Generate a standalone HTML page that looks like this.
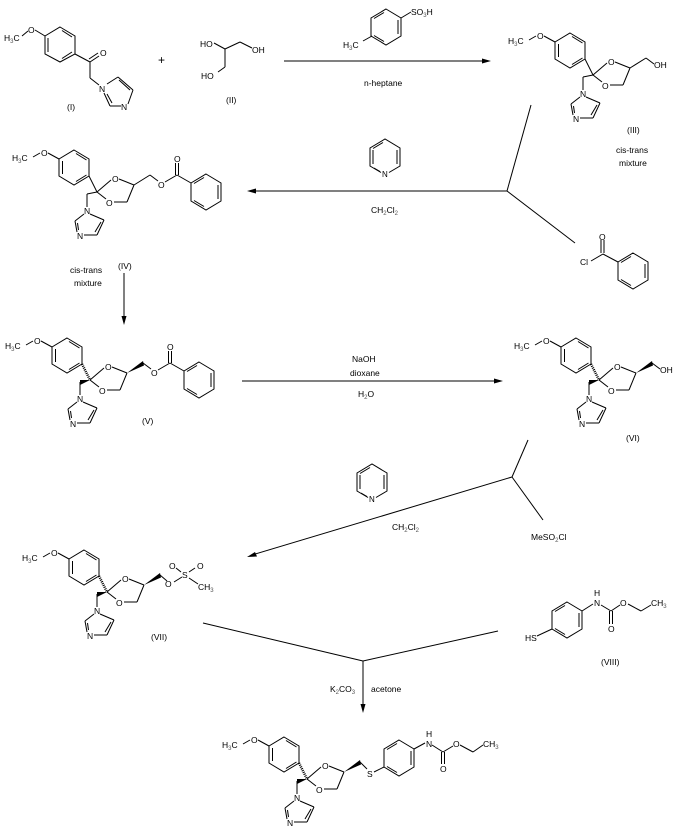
<!DOCTYPE html>
<html><head><meta charset="utf-8"><style>
html,body{margin:0;padding:0;background:#fff;}
svg{display:block}
text{font-family:"Liberation Sans",sans-serif;font-size:8.5px;fill:#000}
.s{font-size:6px;fill:#555}
</style></head><body>
<svg width="679" height="836" viewBox="0 0 679 836" xmlns="http://www.w3.org/2000/svg">
<defs>
<g id="core" stroke="#000" stroke-width="1" fill="none">
<line x1="26" y1="345" x2="33" y2="341"/>
<line x1="41" y1="341" x2="52" y2="347"/>
<polygon points="67,338 82,347 82,364 67,373 52,364 52,347"/>
<line x1="55.5" y1="349" x2="55.5" y2="362"/>
<line x1="69" y1="369.5" x2="79.5" y2="363"/>
<line x1="69" y1="341.5" x2="79.5" y2="348"/>
<line x1="90" y1="380" x2="104" y2="368"/>
<line x1="112" y1="367" x2="127" y2="373"/>
<line x1="127" y1="373" x2="120" y2="390"/>
<line x1="120" y1="390" x2="107" y2="390"/>
<line x1="99" y1="387" x2="90" y2="380"/>
<line x1="80" y1="382" x2="80" y2="395"/>
<line x1="83" y1="402" x2="97" y2="408"/>
<line x1="97" y1="408" x2="90" y2="423"/>
<line x1="90" y1="423" x2="77" y2="423"/>
<line x1="70" y1="420" x2="68" y2="409"/>
<line x1="68" y1="409" x2="77" y2="402"/>
<line x1="94" y1="410" x2="88" y2="420"/>
<line x1="71.5" y1="418" x2="70.5" y2="411"/>
</g>
<g id="plain" stroke="#000" stroke-width="1" fill="none">
<line x1="82" y1="364" x2="90" y2="380"/>
<line x1="90" y1="380" x2="80" y2="382"/>
<line x1="127" y1="373" x2="143" y2="363"/>
</g>
<g id="stereo" stroke="#000" fill="#000">
<line x1="82" y1="364" x2="90" y2="380" stroke-width="2.5" stroke-dasharray="1,1"/>
<polygon points="90,380 80,380 80,385" stroke="none"/>
<polygon points="127,373 143,361 144,365.5" stroke="none"/>
</g>
<g id="benz" stroke="#000" stroke-width="1" fill="none">
<polygon points="0,-18 15,-9 15,9 0,18 -15,9 -15,-9"/>
<line x1="12" y1="-7" x2="12" y2="7"/>
<line x1="-2" y1="-14.5" x2="-12" y2="-8.5"/>
<line x1="-2" y1="14.5" x2="-12" y2="8.5"/>
</g>
<g id="pyr" stroke="#000" stroke-width="1" fill="none">
<polyline points="4,15.5 15,9 15,-9 0,-18 -15,-9 -15,9 -4,15.5"/>
<line x1="12" y1="-7" x2="12" y2="7"/>
<line x1="-12" y1="-7" x2="-12" y2="7"/>
<line x1="-2" y1="-14.5" x2="-12" y2="-8.5"/>
<line x1="-11" y1="11" x2="-5" y2="14.5"/>
</g>
</defs>

<!-- (I) -->
<g stroke="#000" stroke-width="1" fill="none">
<line x1="22" y1="36" x2="28" y2="31"/>
<line x1="35" y1="30" x2="45" y2="36"/>
<polygon points="60,27 75,36 75,54 60,62 45,54 45,36"/>
<line x1="48" y1="38" x2="48" y2="52"/>
<line x1="62" y1="30.5" x2="72" y2="37"/>
<line x1="62" y1="58.5" x2="72" y2="52"/>
<line x1="75" y1="54" x2="90" y2="62"/>
<line x1="90" y1="62" x2="99" y2="56"/>
<line x1="89" y1="59" x2="98" y2="53"/>
<line x1="90" y1="62" x2="90" y2="78"/>
<line x1="90" y1="78" x2="99" y2="85"/>
<line x1="107" y1="84" x2="118" y2="77"/>
<line x1="118" y1="77" x2="133" y2="90"/>
<line x1="133" y1="90" x2="128" y2="104"/>
<line x1="121" y1="106" x2="110" y2="106"/>
<line x1="110" y1="106" x2="104" y2="93"/>
<line x1="119" y1="80" x2="130" y2="90"/>
<line x1="112" y1="103" x2="107" y2="94"/>
</g>
<text x="4" y="41">H<tspan class="s" dy="2">3</tspan><tspan dy="-2">C</tspan></text>
<text x="28" y="33">O</text>
<text x="100" y="56">O</text>
<text x="99" y="92">N</text>
<text x="121" y="110">N</text>
<text x="67" y="110">(I)</text>
<text x="158" y="64" style="font-size:12px">+</text>
<!-- (II) -->
<g stroke="#000" stroke-width="1" fill="none">
<line x1="214" y1="43" x2="225" y2="49"/>
<line x1="225" y1="49" x2="240" y2="42"/>
<line x1="240" y1="42" x2="252" y2="48"/>
<line x1="225" y1="49" x2="225" y2="67"/>
<line x1="225" y1="67" x2="218" y2="72"/>
</g>
<text x="200" y="47">HO</text>
<text x="252" y="53">OH</text>
<text x="201" y="79">HO</text>
<text x="226" y="103">(II)</text>

<!-- arrow 1 -->
<line x1="284" y1="61" x2="486" y2="61" stroke="#000"/>
<polygon points="491,61 482,58.5 482,63.5" fill="#000"/>
<use href="#benz" x="386" y="27"/>
<line x1="372" y1="36" x2="363" y2="41" stroke="#000"/>
<line x1="401" y1="18" x2="411" y2="12" stroke="#000"/>
<text x="343" y="48">H<tspan class="s" dy="2">3</tspan><tspan dy="-2">C</tspan></text>
<text x="411" y="15">SO<tspan class="s" dy="2">3</tspan><tspan dy="-2">H</tspan></text>
<text x="364" y="86">n-heptane</text>

<!-- (III) -->
<g transform="translate(503,-305)">
<use href="#core"/><use href="#plain"/>
<line x1="143" y1="363" x2="151" y2="369" stroke="#000"/>
<text x="5" y="349">H<tspan class="s" dy="2">3</tspan><tspan dy="-2">C</tspan></text>
<text x="34" y="344">O</text><text x="105" y="370">O</text><text x="99" y="394">O</text>
<text x="77" y="402">N</text><text x="70" y="427">N</text>
<text x="151" y="373">OH</text>
</g>
<text x="627" y="133">(III)</text>
<text x="616" y="153">cis-trans</text>
<text x="619" y="166">mixture</text>

<!-- branch 1 -->
<g stroke="#000" stroke-width="1" fill="none">
<line x1="531" y1="105" x2="507" y2="191"/>
<line x1="507" y1="191" x2="575" y2="243"/>
<line x1="507" y1="191" x2="252" y2="191"/>
</g>
<polygon points="247,191 256,188.5 256,193.5" fill="#000"/>
<use href="#pyr" x="385" y="157"/>
<text x="382" y="177" style="font-size:8px">N</text>
<text x="371" y="213">CH<tspan class="s" dy="2">2</tspan><tspan dy="-2">Cl</tspan><tspan class="s" dy="2">2</tspan></text>
<!-- benzoyl chloride -->
<g stroke="#000" stroke-width="1" fill="none">
<line x1="591" y1="261" x2="603" y2="254"/>
<line x1="601" y1="253" x2="601" y2="240"/>
<line x1="604" y1="253" x2="604" y2="240"/>
<line x1="603" y1="254" x2="618" y2="262"/>
</g>
<use href="#benz" x="633" y="271"/>
<text x="580" y="265">Cl</text>
<text x="599" y="240">O</text>

<!-- (IV) -->
<g transform="translate(7,-188)">
<use href="#core"/><use href="#plain"/>
<g stroke="#000" stroke-width="1" fill="none">
<line x1="143" y1="363" x2="151" y2="369"/>
<line x1="158" y1="370" x2="170" y2="363"/>
<line x1="168.5" y1="363" x2="168.5" y2="351"/>
<line x1="171.5" y1="363" x2="171.5" y2="351"/>
<line x1="170" y1="363" x2="184" y2="371"/>
</g>
<use href="#benz" x="199" y="380"/>
<text x="5" y="349">H<tspan class="s" dy="2">3</tspan><tspan dy="-2">C</tspan></text>
<text x="34" y="344">O</text><text x="105" y="370">O</text><text x="99" y="394">O</text>
<text x="77" y="402">N</text><text x="70" y="427">N</text>
<text x="151" y="376">O</text><text x="167" y="350">O</text>
</g>
<text x="118" y="269">(IV)</text>
<text x="70" y="273">cis-trans</text>
<text x="74" y="286">mixture</text>
<line x1="124" y1="273" x2="124" y2="320" stroke="#000"/>
<polygon points="124,325 121.5,316 126.5,316" fill="#000"/>

<!-- (V) -->
<g>
<use href="#core"/><use href="#stereo"/>
<g stroke="#000" stroke-width="1" fill="none">
<line x1="143" y1="363" x2="151" y2="369"/>
<line x1="158" y1="370" x2="170" y2="363"/>
<line x1="168.5" y1="363" x2="168.5" y2="351"/>
<line x1="171.5" y1="363" x2="171.5" y2="351"/>
<line x1="170" y1="363" x2="184" y2="371"/>
</g>
<use href="#benz" x="199" y="380"/>
<text x="5" y="349">H<tspan class="s" dy="2">3</tspan><tspan dy="-2">C</tspan></text>
<text x="34" y="344">O</text><text x="105" y="370">O</text><text x="99" y="394">O</text>
<text x="77" y="402">N</text><text x="70" y="427">N</text>
<text x="151" y="376">O</text><text x="167" y="350">O</text>
</g>
<text x="142" y="424">(V)</text>

<!-- arrow V->VI -->
<line x1="242" y1="381" x2="498" y2="381" stroke="#000"/>
<polygon points="503,381 494,378.5 494,383.5" fill="#000"/>
<text x="352" y="362">NaOH</text>
<text x="350" y="376">dioxane</text>
<text x="358" y="397">H<tspan class="s" dy="2">2</tspan><tspan dy="-2">O</tspan></text>

<!-- (VI) -->
<g transform="translate(509,0)">
<use href="#core"/><use href="#stereo"/>
<line x1="143" y1="363" x2="151" y2="369" stroke="#000"/>
<text x="5" y="349">H<tspan class="s" dy="2">3</tspan><tspan dy="-2">C</tspan></text>
<text x="34" y="344">O</text><text x="105" y="370">O</text><text x="99" y="394">O</text>
<text x="77" y="402">N</text><text x="70" y="427">N</text>
<text x="151" y="373">OH</text>
</g>
<text x="626" y="441">(VI)</text>

<!-- branch 2 -->
<g stroke="#000" stroke-width="1" fill="none">
<line x1="528" y1="440" x2="512" y2="477"/>
<line x1="512" y1="477" x2="543" y2="520"/>
<line x1="512" y1="477" x2="252" y2="555"/>
</g>
<polygon points="247,557 255,552 257,556.5" fill="#000"/>
<use href="#pyr" x="372" y="482"/>
<text x="369" y="502" style="font-size:8px">N</text>
<text x="392" y="530">CH<tspan class="s" dy="2">2</tspan><tspan dy="-2">Cl</tspan><tspan class="s" dy="2">2</tspan></text>
<text x="531" y="540">MeSO<tspan class="s" dy="2">2</tspan><tspan dy="-2">Cl</tspan></text>

<!-- (VII) -->
<g transform="translate(17,212)">
<use href="#core"/><use href="#stereo"/>
<g stroke="#000" stroke-width="1" fill="none">
<line x1="143" y1="363" x2="150" y2="369"/>
<line x1="157" y1="370" x2="165" y2="365"/>
<line x1="164" y1="360" x2="159" y2="356"/>
<line x1="172" y1="360" x2="178" y2="356"/>
<line x1="172" y1="366" x2="181" y2="372"/>
</g>
<text x="5" y="349">H<tspan class="s" dy="2">3</tspan><tspan dy="-2">C</tspan></text>
<text x="34" y="344">O</text><text x="105" y="370">O</text><text x="99" y="394">O</text>
<text x="77" y="402">N</text><text x="70" y="427">N</text>
<text x="148" y="375">O</text>
<text x="165" y="366">S</text>
<text x="152" y="357">O</text><text x="180" y="357">O</text>
<text x="181" y="378">CH<tspan class="s" dy="2">3</tspan></text>
</g>
<text x="151" y="640">(VII)</text>

<!-- (VIII) -->
<use href="#benz" x="567" y="620"/>
<g stroke="#000" stroke-width="1" fill="none">
<line x1="537" y1="636" x2="552" y2="629"/>
<line x1="582" y1="611" x2="593" y2="604"/>
<line x1="601" y1="605" x2="611" y2="611"/>
<line x1="611" y1="611" x2="620" y2="605"/>
<line x1="609.5" y1="611" x2="609.5" y2="624"/>
<line x1="612.5" y1="611" x2="612.5" y2="624"/>
<line x1="628" y1="604" x2="641" y2="611"/>
<line x1="641" y1="611" x2="651" y2="605"/>
</g>
<text x="525" y="641">HS</text>
<text x="594" y="596">H</text><text x="594" y="606">N</text>
<text x="608" y="632">O</text>
<text x="620" y="606">O</text>
<text x="651" y="606">CH<tspan class="s" dy="2">3</tspan></text>
<text x="601" y="665">(VIII)</text>

<!-- branch 3 -->
<g stroke="#000" stroke-width="1" fill="none">
<line x1="203" y1="623" x2="363" y2="661"/>
<line x1="363" y1="661" x2="498" y2="631"/>
<line x1="363" y1="661" x2="363" y2="708"/>
</g>
<polygon points="363,713 360.5,704 365.5,704" fill="#000"/>
<text x="330" y="692">K<tspan class="s" dy="2">2</tspan><tspan dy="-2">CO</tspan><tspan class="s" dy="2">3</tspan></text>
<text x="371" y="692">acetone</text>

<!-- final -->
<g transform="translate(217,399)">
<use href="#core"/><use href="#stereo"/>
<line x1="143" y1="363" x2="150" y2="370" stroke="#000"/>
<text x="5" y="349">H<tspan class="s" dy="2">3</tspan><tspan dy="-2">C</tspan></text>
<text x="34" y="344">O</text><text x="105" y="370">O</text><text x="99" y="394">O</text>
<text x="77" y="402">N</text><text x="70" y="427">N</text>
<text x="150" y="378">S</text>
</g>
<use href="#benz" x="399" y="758"/>
<g stroke="#000" stroke-width="1" fill="none">
<line x1="374" y1="772" x2="384" y2="767"/>
<line x1="414" y1="749" x2="425" y2="743"/>
<line x1="432" y1="745" x2="443" y2="752"/>
<line x1="443" y1="752" x2="453" y2="746"/>
<line x1="441.5" y1="752" x2="441.5" y2="764"/>
<line x1="444.5" y1="752" x2="444.5" y2="764"/>
<line x1="460" y1="745" x2="473" y2="752"/>
<line x1="473" y1="752" x2="483" y2="745"/>
</g>
<text x="426" y="737">H</text><text x="426" y="747">N</text>
<text x="440" y="772">O</text>
<text x="453" y="747">O</text>
<text x="483" y="747">CH<tspan class="s" dy="2">3</tspan></text>
</svg>
</body></html>
